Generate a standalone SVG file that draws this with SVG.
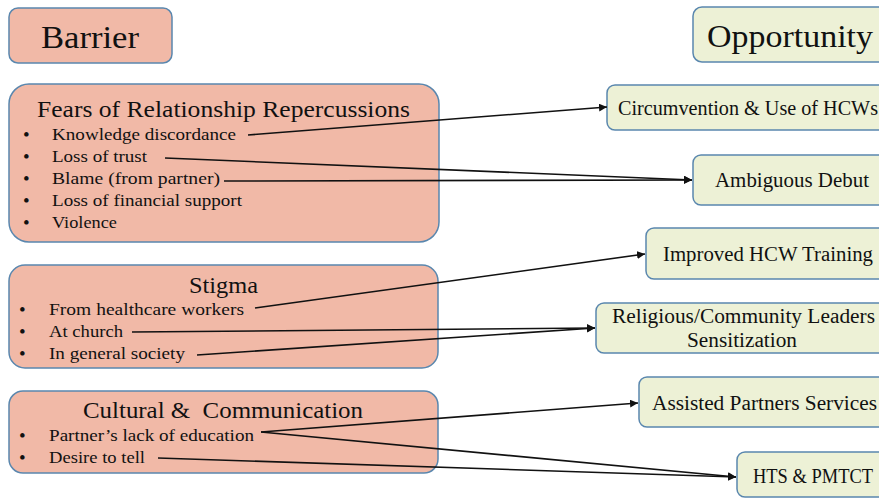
<svg xmlns="http://www.w3.org/2000/svg" width="879" height="499" viewBox="0 0 879 499">
  <style>
    text { font-family: "Liberation Serif", "Times New Roman", serif; fill: #111; }
    .bar { fill: #F1B9A7; stroke: #5A87AE; stroke-width: 1.5; }
    .opp { fill: #EDF1D6; stroke: #5A87AE; stroke-width: 1.5; }
    .head { font-size: 32px; }
    .title { font-size: 23.5px; }
    .item { font-size: 17.5px; }
    .lbl { font-size: 20px; }
    .dot { font-size: 19px; }
    .conn line { stroke: #111; stroke-width: 1.6; marker-end: url(#arr); }
  </style>
  <defs>
    <marker id="arr" viewBox="0 0 10 10" refX="10" refY="5" markerWidth="5" markerHeight="5" orient="auto" markerUnits="strokeWidth">
      <path d="M0,0 L10,5 L0,10 z" fill="#111"/>
    </marker>
  </defs>

  <!-- column headers -->
  <g id="barrier-header">
    <rect class="bar" x="9" y="8" width="163" height="55" rx="9"/>
    <text class="head" x="41" y="48" textLength="98" lengthAdjust="spacingAndGlyphs">Barrier</text>
  </g>
  <g id="opportunity-header">
    <rect class="opp" x="693" y="7" width="200" height="55" rx="9"/>
    <text class="head" x="707" y="47" textLength="166" lengthAdjust="spacingAndGlyphs">Opportunity</text>
  </g>

  <!-- barrier groups -->
  <g id="fears">
    <rect class="bar" x="9" y="84" width="430" height="158" rx="20"/>
    <text class="title" x="37" y="117" textLength="373" lengthAdjust="spacingAndGlyphs">Fears of Relationship Repercussions</text>
    <text class="dot" x="23" y="141">•</text>
    <text class="item" x="52" y="140" textLength="184" lengthAdjust="spacingAndGlyphs">Knowledge discordance</text>
    <text class="dot" x="23" y="163">•</text>
    <text class="item" x="52" y="162" textLength="95" lengthAdjust="spacingAndGlyphs">Loss of trust</text>
    <text class="dot" x="23" y="185">•</text>
    <text class="item" x="52" y="184" textLength="168" lengthAdjust="spacingAndGlyphs">Blame (from partner)</text>
    <text class="dot" x="23" y="207">•</text>
    <text class="item" x="52" y="206" textLength="190" lengthAdjust="spacingAndGlyphs">Loss of financial support</text>
    <text class="dot" x="23" y="229">•</text>
    <text class="item" x="52" y="228" textLength="65" lengthAdjust="spacingAndGlyphs">Violence</text>
  </g>

  <g id="stigma">
    <rect class="bar" x="9" y="265" width="429" height="103" rx="16"/>
    <text class="title" x="189" y="293" textLength="69" lengthAdjust="spacingAndGlyphs">Stigma</text>
    <text class="dot" x="19" y="316">•</text>
    <text class="item" x="49" y="315" textLength="195" lengthAdjust="spacingAndGlyphs">From healthcare workers</text>
    <text class="dot" x="19" y="338">•</text>
    <text class="item" x="49" y="337" textLength="74" lengthAdjust="spacingAndGlyphs">At church</text>
    <text class="dot" x="19" y="360">•</text>
    <text class="item" x="49" y="359" textLength="136" lengthAdjust="spacingAndGlyphs">In general society</text>
  </g>

  <g id="cultural">
    <rect class="bar" x="9" y="391" width="429" height="82" rx="14"/>
    <text class="title" x="83" y="418" textLength="280" lengthAdjust="spacingAndGlyphs" xml:space="preserve">Cultural &amp;  Communication</text>
    <text class="dot" x="19" y="442">•</text>
    <text class="item" x="49" y="441" textLength="205" lengthAdjust="spacingAndGlyphs">Partner’s lack of education</text>
    <text class="dot" x="19" y="464">•</text>
    <text class="item" x="49" y="463" textLength="96" lengthAdjust="spacingAndGlyphs">Desire to tell</text>
  </g>

  <!-- opportunity nodes -->
  <g id="circumvention">
    <rect class="opp" x="607" y="85" width="290" height="45" rx="8"/>
    <text class="lbl" x="618" y="115" textLength="260" lengthAdjust="spacingAndGlyphs">Circumvention &amp; Use of HCWs</text>
  </g>
  <g id="ambiguous-debut">
    <rect class="opp" x="693" y="155" width="200" height="50" rx="8"/>
    <text class="lbl" x="715" y="187" textLength="154" lengthAdjust="spacingAndGlyphs">Ambiguous Debut</text>
  </g>
  <g id="hcw-training">
    <rect class="opp" x="646" y="228" width="250" height="51" rx="8"/>
    <text class="lbl" x="663" y="261" textLength="210" lengthAdjust="spacingAndGlyphs">Improved HCW Training</text>
  </g>
  <g id="leaders">
    <rect class="opp" x="596" y="303" width="300" height="50" rx="8"/>
    <text class="lbl" x="612" y="323" textLength="263" lengthAdjust="spacingAndGlyphs">Religious/Community Leaders</text>
    <text class="lbl" x="687" y="347" textLength="110" lengthAdjust="spacingAndGlyphs">Sensitization</text>
  </g>
  <g id="assisted-partners">
    <rect class="opp" x="639" y="377" width="260" height="50" rx="8"/>
    <text class="lbl" x="652" y="410" textLength="225" lengthAdjust="spacingAndGlyphs">Assisted Partners Services</text>
  </g>
  <g id="hts-pmtct">
    <rect class="opp" x="737" y="452" width="160" height="45" rx="8"/>
    <text class="lbl" x="753" y="483" textLength="120" lengthAdjust="spacingAndGlyphs">HTS &amp; PMTCT</text>
  </g>

  <!-- connectors -->
  <g id="connectors" class="conn">
    <line x1="248" y1="135" x2="607" y2="107"/>
    <line x1="165" y1="158" x2="692" y2="180"/>
    <line x1="224" y1="181" x2="692" y2="180"/>
    <line x1="255" y1="308" x2="645" y2="254"/>
    <line x1="132" y1="332" x2="595" y2="328"/>
    <line x1="197" y1="355" x2="595" y2="328"/>
    <line x1="261" y1="432" x2="638" y2="403"/>
    <line x1="261" y1="432" x2="736" y2="477"/>
    <line x1="158" y1="458" x2="736" y2="477"/>
  </g>
</svg>
